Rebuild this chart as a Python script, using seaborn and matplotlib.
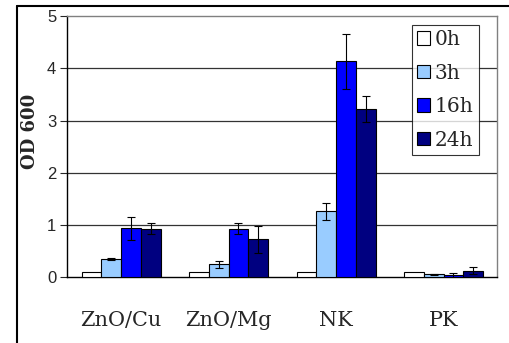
import seaborn as sns
import matplotlib.pyplot as plt
import numpy as np
import pandas as pd
from matplotlib.lines import Line2D

# values
groups = ['ZnO/Cu', 'ZnO/Mg', 'NK', 'PK']
times = ['0h', '3h', '16h', '24h']
od_0h = [0.10, 0.10, 0.10, 0.10]
od_3h = [0.35, 0.25, 1.26, 0.06]
od_16h = [0.94, 0.93, 4.13, 0.04]
od_24h = [0.93, 0.73, 3.22, 0.13]
err_0h = [0.0, 0.0, 0.0, 0.0]
err_3h = [0.01, 0.07, 0.16, 0.01]
err_16h = [0.22, 0.10, 0.52, 0.05]
err_24h = [0.10, 0.26, 0.24, 0.07]
colors = ['#FFFFFF', '#99CCFF', '#0000FF', '#000080']

if __name__ == '__main__':
    rows = []
    for t, vals, errs in zip(times, [od_0h, od_3h, od_16h, od_24h],
                             [err_0h, err_3h, err_16h, err_24h]):
        for g, v, e in zip(groups, vals, errs):
            rows.append({'group': g, 'time': t, 'od': v, 'err': e})
    df = pd.DataFrame(rows)

    sns.set_style('white')
    plt.rcParams['font.family'] = ['DejaVu Serif']

    fig = plt.figure(figsize=(5.1, 3.43), dpi=100)
    ax = fig.add_axes([0.132, 0.1915, 0.843, 0.7619])

    sns.barplot(data=df, x='group', y='od', hue='time', order=groups,
                hue_order=times, palette=colors, errorbar=None, saturation=1,
                width=0.735, edgecolor='black', linewidth=0.8, ax=ax,
                zorder=3)

    # error bars at the bar centres
    for cont, t in zip(ax.containers, times):
        sub = df[df['time'] == t].set_index('group').loc[groups]
        xs = [p.get_x() + p.get_width() / 2 for p in cont.patches]
        errs = sub['err'].values
        mask = errs > 0
        ax.errorbar(np.array(xs)[mask], sub['od'].values[mask],
                    yerr=errs[mask], fmt='none', ecolor='black',
                    elinewidth=0.8, capsize=3, capthick=0.8, zorder=4)

    ax.set_ylim(0, 5)
    ax.set_xlim(-0.5, 3.5)
    ax.set_yticks(range(6))
    ax.set_yticklabels([str(i) for i in range(6)], family='Liberation Sans',
                       fontsize=12)
    for y in range(1, 5):
        ax.axhline(y, color='#333333', lw=0.9, zorder=1)

    ax.set_xticks(range(4))
    ax.set_xticklabels(groups, fontsize=15)
    ax.set_xticks(np.arange(-0.5, 4.0, 1.0), minor=True)
    ax.tick_params(axis='x', which='major', length=0, pad=24)
    ax.tick_params(axis='x', which='minor', length=7, width=0.8,
                   color='#555555', direction='out')
    ax.tick_params(axis='y', length=5, width=0.8, direction='out',
                   left=True, pad=3)

    ax.set_xlabel('')
    ax.set_ylabel('OD 600', fontsize=13, fontweight='bold')
    ax.yaxis.set_label_coords(-0.066, 0.56)

    for s in ['top', 'right']:
        ax.spines[s].set_color('#808080')
        ax.spines[s].set_linewidth(1.0)
    for s in ['left', 'bottom']:
        ax.spines[s].set_color('black')
        ax.spines[s].set_linewidth(1.0)

    leg = ax.legend(loc='upper right', bbox_to_anchor=(0.957, 0.9655),
                    fontsize=14.5, frameon=True, fancybox=False,
                    handlelength=0.65, handleheight=0.65, handletextpad=0.25,
                    borderpad=0.25, labelspacing=0.72, borderaxespad=0)
    leg.get_frame().set_edgecolor('black')
    leg.get_frame().set_linewidth(0.8)

    # outer chart frame
    x0 = 16.5 / 510
    y0 = 1 - 5.5 / 343
    fig.add_artist(Line2D([x0, x0], [0, y0], transform=fig.transFigure,
                          color='black', lw=1.5))
    fig.add_artist(Line2D([x0, 1], [y0, y0], transform=fig.transFigure,
                          color='black', lw=1.5))

    plt.savefig('out.png', dpi=100)
